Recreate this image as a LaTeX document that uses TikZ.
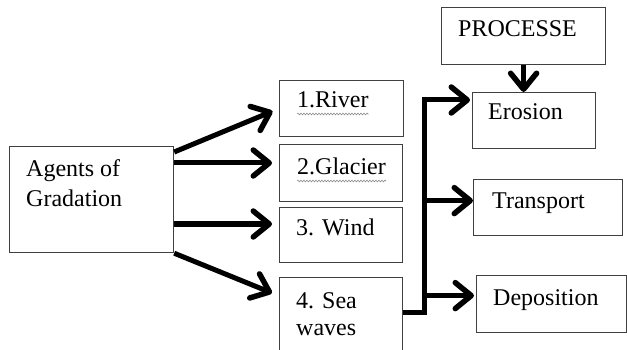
\documentclass[tikz,border=0pt]{standalone}
\usepackage{fontspec}
\setmainfont{Liberation Serif}
\usetikzlibrary{arrows.meta,decorations.pathmorphing}
\begin{document}
\begin{tikzpicture}[x=1pt,y=-1pt,
  box/.style={draw=black!75,line width=1.2pt,rectangle,inner sep=0pt,anchor=north west},
  txt/.style={inner sep=0pt,anchor=base west,font=\fontsize{24}{30}\selectfont},
  arr/.style={line width=5pt,-{Straight Barb[length=16pt,width=26pt,round,line width=5.5pt]}},
  squig/.style={draw=black!45,line width=0.6pt,decorate,decoration={snake,amplitude=0.9pt,segment length=3pt}}]
\useasboundingbox (0,0) rectangle (627,350);
\clip (0,0) rectangle (627,350);
% boxes
\node[box,minimum width=164pt,minimum height=106pt] (agents) at (9,146) {};
\node[box,minimum width=124pt,minimum height=56pt] (river) at (279,80) {};
\node[box,minimum width=123pt,minimum height=57pt] (glacier) at (279,144) {};
\node[box,minimum width=123pt,minimum height=55pt] (wind) at (279,207) {};
\node[box,minimum width=123pt,minimum height=83pt] (sea) at (279,277) {};
\node[box,minimum width=164pt,minimum height=57pt] (processe) at (441,7) {};
\node[box,minimum width=123pt,minimum height=56pt] (erosion) at (472,92) {};
\node[box,minimum width=149pt,minimum height=56pt] (transport) at (473,179) {};
\node[box,minimum width=150pt,minimum height=57pt] (deposition) at (476,275) {};
% texts
\node[txt] (agentsT1) at (26,177) {Agents of};
\node[txt] (agentsT2) at (26,207) {Gradation};
\node[txt] (riverT) at (297,108) {1.River};
\node[txt] (glacierT) at (297,175) {2.Glacier};
\node[txt] (windT) at (296,235) {3. Wind};
\node[txt] (seaT1) at (296,308) {4. Sea};
\node[txt] (seaT2) at (296,335) {waves};
\node[txt] (procT) at (458,37) {PROCESSE};
\node[txt] (eroT) at (488,120) {Erosion};
\node[txt] (transT) at (492,208) {Transport};
\node[txt] (depT) at (493,305) {Deposition};
% spell-check squiggles
\draw[squig] ([yshift=-6pt]riverT.base west) -- ([yshift=-6pt]riverT.base east);
\draw[squig] ([yshift=-6pt]glacierT.base west) -- ([yshift=-6pt]glacierT.base east);
% left arrows
\coordinate (a1s) at ([yshift=-6pt]agents.north east);
\coordinate (a2s) at ([yshift=-17pt]agents.north east);
\coordinate (a3s) at ([yshift=-78pt]agents.north east);
\draw[arr,shorten >=7pt] (a1s) -- (river.west);
\draw[arr,shorten >=7pt] (a2s) -- (a2s -| glacier.west);
\draw[arr,shorten >=7pt] (a3s) -- (a3s -| wind.west);
\draw[arr] (agents.south east) -- ([xshift=-7pt,yshift=-16pt]sea.north west);
% trunk
\coordinate (tx) at (424,0);
\coordinate (seaout) at ([yshift=-35pt]sea.north east);
\coordinate (e1) at ([yshift=-8pt]erosion.north west);
\coordinate (t1) at ([yshift=7pt]transport.west);
\coordinate (d1) at ([yshift=8.5pt]deposition.west);
\draw[arr,line join=miter,shorten >=2pt] (seaout) -- (seaout -| tx) -- (tx |- e1) -- (e1);
\draw[arr] (tx |- t1) -- (t1);
\draw[arr,shorten >=2pt] (tx |- d1) -- (d1);
% processe arrow
\draw[arr] (processe.south) -- (processe.south |- erosion.north);
\end{tikzpicture}
\end{document}
